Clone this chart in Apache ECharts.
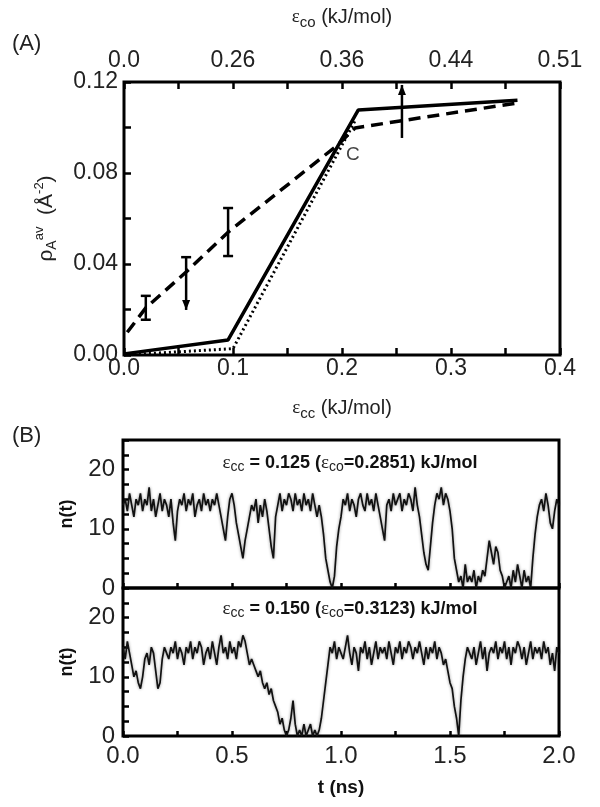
<!DOCTYPE html>
<html><head><meta charset="utf-8">
<script src="https://cdn.jsdelivr.net/npm/echarts@6.0.0/dist/echarts.min.js"></script>
<style>html,body{margin:0;padding:0;background:#fff}#c{width:600px;height:807px}</style>
</head><body><div id="c"></div>
<script>
// ---------- Panel A data ----------
const topAxisLabels = ['0.0', '0.26', '0.36', '0.44', '0.51']; // eps_co at eps_cc = 0,0.1,...,0.4
const solidX = [0, 0.0955, 0.215, 0.361];
const solidY = [0.0005, 0.0066, 0.1077, 0.112];
const dottedX = [0.0, 0.1, 0.212];
const dottedY = [0.0, 0.0028, 0.103];
const dashedX = [0.003, 0.02, 0.057, 0.0955, 0.196, 0.212, 0.255, 0.361];
const dashedY = [0.010, 0.0207, 0.0365, 0.054, 0.0923, 0.0998, 0.103, 0.1108];
const errX = [0.02, 0.057, 0.0955, 0.255];
const errLow = [0.0155, 0.0198, 0.0435, 0.0954];
const errHigh = [0.026, 0.043, 0.0646, 0.1187];
const errLowEnd = [1, 2, 1, 0];   // 0 none, 1 cap, 2 arrow (bound)
const errHighEnd = [1, 1, 1, 2];
const labelC = [0.21, 0.088];

// ---------- Panel B data (n(t), sampled every 0.01 ns from t = 0 to 2.0) ----------
const tStep = 0.01;
const nTop = [
 14,15,13,16,14,12,15,14,16,13,
 15,14,17,13,15,12,14,16,13,15,
 14,12,15,11,8,13,15,14,16,13,
 15,14,16,12,14,15,13,16,14,15,
 13,15,14,16,14,12,10,8,12,15,
 16,14,11,9,7,5,8,10,12,14,
 13,15,11,14,12,15,13,10,7,5,
 12,14,16,13,15,14,16,15,13,16,
 14,15,13,16,14,15,13,16,14,12,
 14,12,9,5,3,1,0,2,7,10,
 12,15,14,16,13,15,14,12,15,16,
 14,13,16,14,15,13,16,14,12,10,
 8,14,15,13,16,14,15,16,13,15,
 14,16,15,13,17,14,12,9,6,4,
 3,7,11,14,16,15,17,14,16,15,
 13,10,5,3,1,2,0,4,1,2,
 1,3,0,2,1,3,2,5,8,6,
 4,7,6,3,2,0,1,2,0,3,
 1,4,2,0,3,1,2,0,5,9,
 12,14,15,13,16,14,11,10,13,15,
 14];
const nBot = [
 15,13,16,14,12,10,11,9,8,10,
 13,14,12,15,14,11,8,9,13,15,
 14,13,15,14,16,13,15,14,12,15,
 14,16,13,15,14,16,15,12,14,15,
 13,16,14,12,15,17,14,15,13,16,
 14,15,13,16,15,17,16,14,12,13,
 12,11,10,11,9,8,9,7,8,6,
 5,4,2,3,1,0,1,3,6,2,
 0,1,0,2,0,1,2,0,1,0,
 1,3,6,9,12,15,14,16,13,15,
 14,13,15,17,14,12,15,14,11,15,
 14,16,13,15,12,14,16,13,15,14,
 15,13,16,14,12,15,14,16,13,15,
 14,16,15,13,15,14,16,14,12,15,
 13,15,14,16,13,15,14,12,13,11,
 9,8,5,3,0,6,10,13,15,14,
 13,15,12,14,16,13,15,11,14,15,
 14,16,13,15,14,16,13,15,12,15,
 14,16,15,13,15,12,14,16,13,15,
 14,15,13,16,14,15,12,14,11,15,
 14];
const annTop = ['cc', ' = 0.125 (', 'co', '=0.2851) kJ/mol'];
const annBot = ['cc', ' = 0.150 (', 'co', '=0.3123) kJ/mol'];

// ---------- build ----------
const FONT = '"Liberation Sans", Arial, sans-serif';
const SERIF = '"Liberation Serif", "DejaVu Serif", serif';
const zip = (a, b) => a.map((v, i) => [v, b[i]]);
const tSeries = arr => arr.map((v, i) => [+(i * tStep).toFixed(2), v]);

const chart = echarts.init(document.getElementById('c'), null, {renderer: 'canvas'});

const gridBase = {show: true, borderColor: '#000', borderWidth: 3, backgroundColor: 'transparent', outerBoundsMode: 'none', containLabel: false};
const tickStyle = {show: true, inside: true, length: 7, lineStyle: {color: '#000', width: 2.5}};
const minorStyle = (n) => ({show: true, splitNumber: n, length: 7, lineStyle: {color: '#000', width: 2.5}});
const labelStyle = {color: '#222', fontSize: 23, fontFamily: FONT};
const labelStyleB = {color: '#222', fontSize: 24, fontFamily: FONT};

const epsRich = {
  e: {fontFamily: SERIF, fontSize: 19, color: '#222'},
  s: {fontFamily: FONT, fontSize: 15, color: '#222', padding: [11, 0, 0, 0]},
  t: {fontFamily: FONT, fontSize: 20, color: '#222'}
};
const annRich = {
  e: {fontFamily: SERIF, fontSize: 19, fill: '#222', color: '#222'},
  s: {fontFamily: FONT, fontSize: 14, fill: '#222', color: '#222', padding: [9, 0, 0, 0]},
  b: {fontFamily: FONT, fontSize: 18, fontWeight: 'bold', fill: '#111', color: '#111'}
};

function errRender(params, api) {
  const x = api.value(0), lo = api.value(1), hi = api.value(2), le = api.value(3), he = api.value(4);
  const pL = api.coord([x, lo]), pH = api.coord([x, hi]);
  const st = {stroke: '#000', lineWidth: 2.5};
  const ch = [{type: 'line', shape: {x1: pL[0], y1: pL[1], x2: pH[0], y2: pH[1]}, style: st}];
  function end(p, kind, dir) {
    if (kind === 1) ch.push({type: 'line', shape: {x1: p[0] - 5, y1: p[1], x2: p[0] + 5, y2: p[1]}, style: st});
    else if (kind === 2) ch.push({type: 'polygon', shape: {points: [[p[0], p[1]], [p[0] - 4, p[1] + dir * 10], [p[0] + 4, p[1] + dir * 10]]}, style: {fill: '#000'}});
  }
  end(pL, le, -1);
  end(pH, he, 1);
  return {type: 'group', children: ch};
}

const traceStyle = {color: '#111', width: 1.7, shadowBlur: 3, shadowColor: 'rgba(0,0,0,0.45)'};
const boldName = {fontFamily: FONT, fontWeight: 'bold', fontSize: 18, color: '#111'};

const option = {
  animation: false,
  backgroundColor: '#fff',
  grid: [
    Object.assign({left: 124, top: 82, width: 436, height: 273}, gridBase),
    Object.assign({left: 123, top: 440, width: 436, height: 148}, gridBase),
    Object.assign({left: 123, top: 588, width: 436, height: 148}, gridBase)
  ],
  xAxis: [
    {type: 'value', gridIndex: 0, position: 'bottom', min: 0, max: 0.4, interval: 0.1,
     axisLine: {show: false}, splitLine: {show: false}, axisTick: tickStyle, minorTick: minorStyle(2),
     axisLabel: Object.assign({margin: 2, formatter: v => v.toFixed(1)}, labelStyle),
     name: '{e|ε}{s|cc}{t| (kJ/mol)}', nameLocation: 'middle', nameGap: 40, nameMoveOverlap: false,
     nameTextStyle: {rich: epsRich}},
    {type: 'value', gridIndex: 0, position: 'top', min: 0, max: 0.4, interval: 0.1,
     axisLine: {show: false}, splitLine: {show: false}, axisTick: tickStyle, minorTick: minorStyle(2),
     axisLabel: Object.assign({margin: 10, formatter: v => topAxisLabels[Math.round(v * 10)]}, labelStyle),
     name: '{e|ε}{s|co}{t| (kJ/mol)}', nameLocation: 'middle', nameGap: 52, nameMoveOverlap: false,
     nameTextStyle: {rich: epsRich}},
    {type: 'value', gridIndex: 1, min: 0, max: 2, interval: 0.5,
     axisLine: {show: false}, splitLine: {show: false}, axisTick: Object.assign({}, tickStyle, {length: 5}), minorTick: Object.assign(minorStyle(2), {length: 5}),
     axisLabel: {show: false}},
    {type: 'value', gridIndex: 2, min: 0, max: 2, interval: 0.5,
     axisLine: {show: false}, splitLine: {show: false}, axisTick: Object.assign({}, tickStyle, {length: 5}), minorTick: Object.assign(minorStyle(2), {length: 5}),
     axisLabel: Object.assign({margin: 8, formatter: v => v.toFixed(1)}, labelStyleB),
     name: 't (ns)', nameLocation: 'middle', nameGap: 42, nameMoveOverlap: false,
     nameTextStyle: Object.assign({}, boldName, {fontSize: 19})}
  ],
  yAxis: [
    {type: 'value', gridIndex: 0, min: 0, max: 0.12, interval: 0.04,
     axisLine: {show: false}, splitLine: {show: false}, axisTick: tickStyle, minorTick: minorStyle(2),
     axisLabel: Object.assign({margin: 6, formatter: v => v.toFixed(2)}, labelStyle),
     name: '{r|ρ}{sb|A}{sp|av}{t|  (}{t|Å}{sp|-2}{t|)}', nameLocation: 'middle', nameRotate: 90, nameGap: 64, nameMoveOverlap: false,
     nameTextStyle: {rich: {
       r: {fontFamily: FONT, fontSize: 21, color: '#222'},
       sb: {fontFamily: FONT, fontSize: 14, color: '#222', padding: [12, 0, 0, 0]},
       sp: {fontFamily: FONT, fontSize: 13, color: '#222', padding: [0, 0, 14, 0]},
       t: {fontFamily: FONT, fontSize: 21, color: '#222'}
     }}},
    {type: 'value', gridIndex: 1, min: 0, max: 25, interval: 2.5,
     axisLine: {show: false}, splitLine: {show: false}, axisTick: Object.assign({}, tickStyle, {length: 6}),
     axisLabel: Object.assign({margin: 8, formatter: v => (v % 10 === 0 ? String(v) : '')}, labelStyleB),
     name: 'n(t)', nameLocation: 'middle', nameRotate: 90, nameGap: 47, nameMoveOverlap: false,
     nameTextStyle: boldName},
    {type: 'value', gridIndex: 2, min: 0, max: 25, interval: 2.5,
     axisLine: {show: false}, splitLine: {show: false}, axisTick: Object.assign({}, tickStyle, {length: 6}),
     axisLabel: Object.assign({margin: 8, formatter: v => (v % 10 === 0 ? String(v) : '')}, labelStyleB),
     name: 'n(t)', nameLocation: 'middle', nameRotate: 90, nameGap: 47, nameMoveOverlap: false,
     nameTextStyle: boldName}
  ],
  series: [
    {type: 'line', xAxisIndex: 0, yAxisIndex: 0, data: zip(dottedX, dottedY), showSymbol: false,
     lineStyle: {color: '#000', width: 3, type: [2, 3]}, z: 3},
    {type: 'line', xAxisIndex: 0, yAxisIndex: 0, data: zip(solidX, solidY), showSymbol: false,
     lineStyle: {color: '#000', width: 3.5}, z: 4},
    {type: 'line', xAxisIndex: 0, yAxisIndex: 0, data: zip(dashedX, dashedY), showSymbol: false,
     lineStyle: {color: '#000', width: 3.5, type: [12, 7]}, z: 4},
    {type: 'custom', xAxisIndex: 0, yAxisIndex: 0, renderItem: errRender,
     data: errX.map((x, i) => [x, errLow[i], errHigh[i], errLowEnd[i], errHighEnd[i]]),
     encode: {x: 0, y: [1, 2]}, z: 5},
    {type: 'scatter', xAxisIndex: 0, yAxisIndex: 0, data: [labelC], symbolSize: 1,
     itemStyle: {color: 'rgba(0,0,0,0)'},
     label: {show: true, position: 'inside', formatter: 'C', fontFamily: FONT, fontSize: 19, color: '#111'}},
    {type: 'line', xAxisIndex: 2, yAxisIndex: 1, data: tSeries(nTop), showSymbol: false, lineStyle: traceStyle},
    {type: 'line', xAxisIndex: 3, yAxisIndex: 2, data: tSeries(nBot), showSymbol: false, lineStyle: traceStyle}
  ],
  graphic: [
    {type: 'text', left: 12, top: 33, style: {text: '(A)', font: '22px ' + FONT, fill: '#222'}},
    {type: 'text', left: 12, top: 425, style: {text: '(B)', font: '22px ' + FONT, fill: '#222'}},
    {type: 'text', x: 350, y: 463, style: {
      text: '{e|ε}{s|' + annTop[0] + '}{b|' + annTop[1] + '}{e|ε}{s|' + annTop[2] + '}{b|' + annTop[3] + '}',
      textAlign: 'center', textVerticalAlign: 'middle', align: 'center', verticalAlign: 'middle', rich: annRich}},
    {type: 'text', x: 350, y: 609, style: {
      text: '{e|ε}{s|' + annBot[0] + '}{b|' + annBot[1] + '}{e|ε}{s|' + annBot[2] + '}{b|' + annBot[3] + '}',
      textAlign: 'center', textVerticalAlign: 'middle', align: 'center', verticalAlign: 'middle', rich: annRich}}
  ]
};
chart.setOption(option);
</script>
</body></html>
